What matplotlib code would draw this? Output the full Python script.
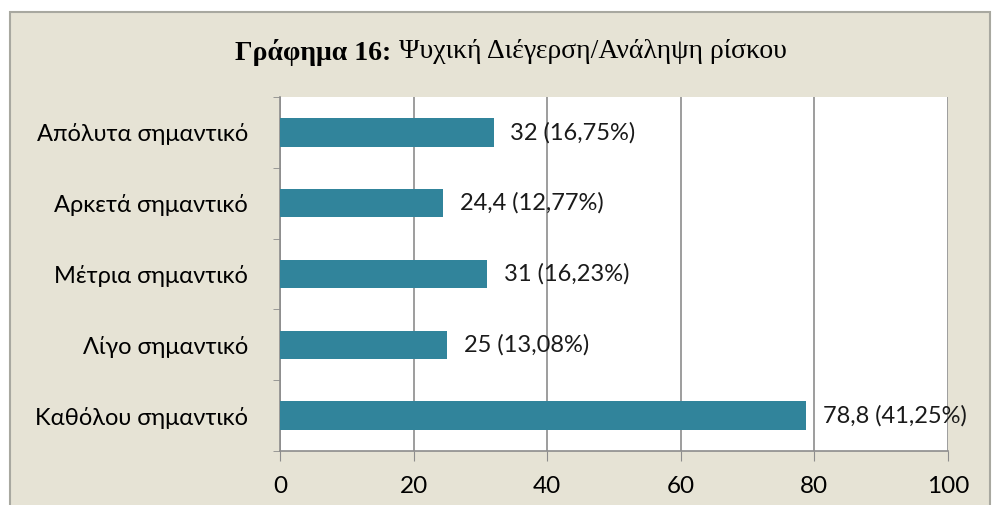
"""
Horizontal bar chart: Γράφημα 16
"""

import matplotlib
matplotlib.use("Agg")
import matplotlib.pyplot as plt
from matplotlib.patches import Rectangle

categories = ["Καθόλου σημαντικό", "Λίγο σημαντικό", "Μέτρια σημαντικό",
              "Αρκετά σημαντικό", "Απόλυτα σημαντικό"]
values = [78.8, 25, 31, 24.4, 32]
labels = ["78,8 (41,25%)", "25 (13,08%)", "31 (16,23%)",
          "24,4 (12,77%)", "32 (16,75%)"]
xticks = [0, 20, 40, 60, 80, 100]
title_bold = "Γράφημα 16:"
title_rest = " Ψυχική Διέγερση/Ανάληψη ρίσκου"

bg = "#E6E3D5"
bar_color = "#31849B"
grid_color = "#8C8C8C"
font = ["Lato", "DejaVu Sans"]
fs = 17

fig = plt.figure(figsize=(9.97, 5.05), dpi=100)
W, H = 997, 505

# beige frame below a white strip
fig.patches.append(Rectangle((10 / W, -0.01), 980 / W, (H - 12) / H + 0.01,
                             transform=fig.transFigure, facecolor=bg,
                             edgecolor="#A8A8A0", linewidth=1.5, zorder=-5))

ax = fig.add_axes([280 / W, (H - 451) / H, (948 - 280) / W, (451 - 97) / H])
ax.set_zorder(2)
ax.set_facecolor("white")

pos = list(range(len(categories)))
ax.barh(pos, values, height=0.4, color=bar_color, zorder=3)
for p, v, t in zip(pos, values, labels):
    ax.text(v + 2.5, p, t, va="center", ha="left", fontsize=fs,
            family=font, color="#1a1a1a", zorder=4)

ax.set_xlim(0, 100)
ax.set_ylim(-0.5, len(categories) - 0.5)
ax.set_xticks(xticks)
ax.set_xticklabels([str(x) for x in xticks], fontsize=fs + 0.5, family=font)
ax.set_yticks(pos)
ax.set_yticklabels(categories, fontsize=fs, family=font)
ax.tick_params(axis="y", length=0, pad=23)
ax.tick_params(axis="x", length=7, color=grid_color, pad=11)
ax.set_yticks([p + 0.5 for p in pos[:-1]] + [-0.5, len(categories) - 0.5],
              minor=True)
ax.tick_params(axis="y", which="minor", length=5, color=grid_color)

ax.grid(axis="x", color=grid_color, linewidth=1.2, zorder=1)
for s in ["top", "right"]:
    ax.spines[s].set_visible(False)
for s in ["left", "bottom"]:
    ax.spines[s].set_color(grid_color)
    ax.spines[s].set_linewidth(1.2)

# title: bold prefix + regular rest, centred together
ty = 1 - 52 / H
t1 = fig.text(0, ty, title_bold, ha="left", va="center", fontsize=20,
              fontweight="bold", family="Liberation Serif")
t2 = fig.text(0, ty, title_rest, ha="left", va="center", fontsize=20,
              family="Liberation Serif")
fig.canvas.draw()
r = fig.canvas.get_renderer()
w1 = t1.get_window_extent(r).width / W
w2 = t2.get_window_extent(r).width / W
x0 = 511 / W - (w1 + w2) / 2
t1.set_x(x0)
t2.set_x(x0 + w1)

plt.savefig("out.png", dpi=100)
